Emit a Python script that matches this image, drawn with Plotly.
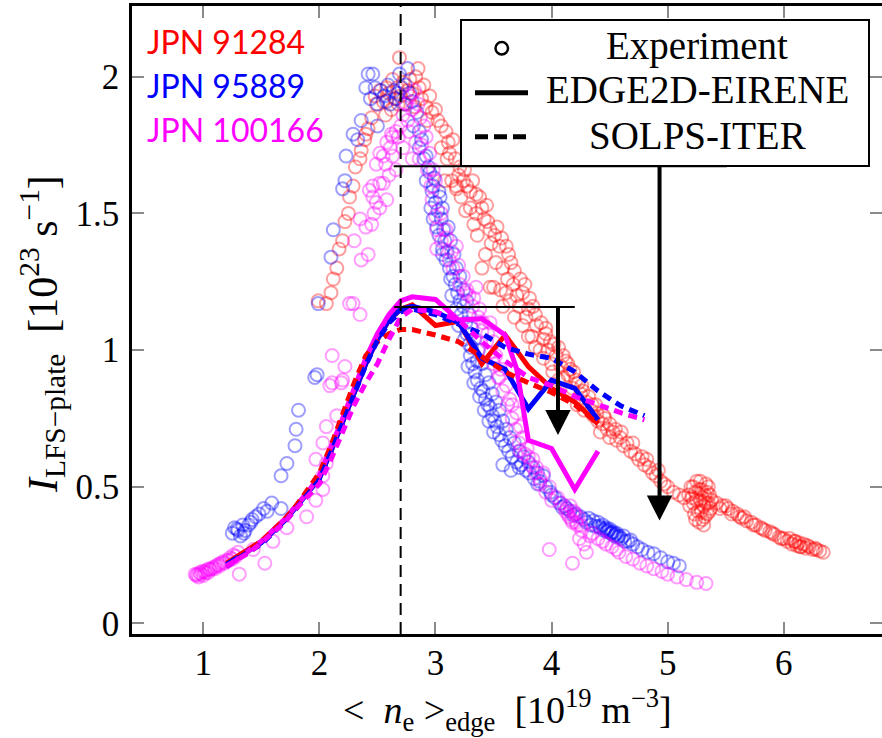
import plotly.graph_objects as go

# ---------------- data ----------------
# Experiment, JPN 91284 (red)
red_x = [1.99, 2.06, 2.10, 2.12, 2.15, 2.17, 2.20, 2.22, 2.25, 2.26, 2.29, 2.31, 2.35, 2.36, 2.39, 2.40, 2.42, 2.45, 2.49, 2.52,
         2.48, 2.55, 2.58, 2.60, 2.63, 2.65, 2.67, 2.69, 2.70, 2.72, 2.74, 2.76, 2.78, 2.80, 2.83, 2.85, 2.86, 2.88, 2.90, 2.92,
         2.95, 2.97, 3.00, 3.02, 3.05, 3.09, 3.11, 3.15, 3.12, 3.17, 3.21, 3.24, 3.18, 3.22, 3.27, 3.30, 3.35, 3.38, 3.44, 3.42,
         3.47, 3.30, 3.26, 3.14, 3.08, 3.18, 3.33, 3.36, 3.51, 3.55, 3.61, 3.65, 3.52, 3.58, 3.67, 3.62, 3.50, 3.47, 3.58, 3.61,
         3.70, 3.75, 3.72, 3.80, 3.84, 3.78, 3.87, 3.83, 3.93, 3.90, 3.97, 4.04, 4.00, 4.08, 4.12, 4.16, 4.10, 4.21, 4.18, 4.25,
         4.30, 4.28, 4.34, 4.36, 4.40, 4.44, 4.42, 4.48, 4.53, 4.50, 4.56, 4.59, 4.62, 4.65, 4.68, 4.72, 4.75, 4.78, 4.80, 4.84,
         4.87, 4.90, 4.94, 4.97, 5.00, 5.05, 5.10, 5.14, 4.38, 4.46, 4.60, 4.70, 4.82, 4.92, 4.26, 4.14, 4.02, 3.95,
         3.05, 3.10, 3.20, 3.25, 3.32, 3.40, 3.45, 3.53, 3.57, 3.63, 3.68, 3.73, 3.77, 3.81, 3.86, 3.91, 3.95, 3.99, 4.06, 4.10,
         4.14, 4.19, 4.23, 4.27, 4.32, 4.35, 4.39, 4.45, 4.50, 4.55, 3.43, 3.40, 3.56, 3.64, 3.68, 3.75, 3.80, 3.86, 3.93, 4.01,
         4.06, 4.15, 4.22, 3.48, 3.35, 2.62, 2.57, 2.68, 2.82, 2.93,
         5.18, 5.20, 5.22, 5.24, 5.25, 5.26, 5.28, 5.29, 5.30, 5.31, 5.32, 5.33, 5.34, 5.35, 5.36, 5.27, 5.37, 5.38, 5.23, 5.21,
         5.19, 5.22, 5.25, 5.27, 5.29, 5.30, 5.32, 5.33, 5.35, 5.36, 5.24, 5.28, 5.31, 5.34,
         5.42, 5.47, 5.52, 5.56, 5.60, 5.64, 5.68, 5.72, 5.76, 5.80, 5.84, 5.88, 5.92, 5.96, 6.00, 6.03,
         5.45, 5.50, 5.55, 5.62, 5.66, 5.74, 5.82, 5.90, 5.98, 6.10, 6.14, 6.20, 6.27,
         6.05, 6.07, 6.09, 6.11, 6.13, 6.15, 6.17, 6.19, 6.22, 6.25, 6.28, 6.31, 6.34]
red_y = [1.18, 1.17, 1.21, 1.26, 1.30, 1.37, 1.40, 1.47, 1.50, 1.56, 1.60, 1.67, 1.70, 1.73, 1.77, 1.79, 1.81, 1.85, 1.90, 1.95,
         1.93, 1.91, 1.96, 1.94, 1.99, 1.92, 1.96, 2.07, 1.93, 1.98, 1.90, 1.95, 1.99, 1.94, 2.00, 2.03, 1.96, 1.92, 1.97, 1.89,
         1.93, 1.87, 1.88, 1.84, 1.82, 1.80, 1.76, 1.77, 1.72, 1.70, 1.67, 1.62, 1.59, 1.56, 1.60, 1.58, 1.57, 1.56, 1.53, 1.48,
         1.44, 1.52, 1.51, 1.62, 1.62, 1.60, 1.46, 1.42, 1.42, 1.38, 1.38, 1.32, 1.32, 1.30, 1.24, 1.26, 1.23, 1.23, 1.16, 1.21,
         1.20, 1.21, 1.16, 1.15, 1.16, 1.12, 1.09, 1.05, 1.04, 1.00, 1.00, 0.98, 0.95, 0.94, 0.96, 0.93, 0.90, 0.89, 0.86, 0.84,
         0.81, 0.78, 0.78, 0.76, 0.74, 0.73, 0.70, 0.71, 0.70, 0.68, 0.67, 0.68, 0.65, 0.66, 0.63, 0.62, 0.60, 0.61, 0.58, 0.57,
         0.55, 0.54, 0.52, 0.51, 0.50, 0.48, 0.47, 0.46, 0.80, 0.75, 0.70, 0.66, 0.60, 0.56, 0.87, 0.91, 1.02, 1.06,
         1.74, 1.70, 1.64, 1.66, 1.62, 1.52, 1.47, 1.45, 1.41, 1.35, 1.29, 1.26, 1.24, 1.19, 1.13, 1.10, 1.08, 1.03, 1.01, 0.98,
         0.95, 0.92, 0.88, 0.85, 0.83, 0.80, 0.77, 0.76, 0.73, 0.71, 1.35, 1.30, 1.22, 1.18, 1.12, 1.09, 1.05, 1.01, 0.97, 0.92,
         0.89, 0.85, 0.80, 1.39, 1.50, 1.88, 1.86, 1.90, 1.89, 1.84,
         0.47, 0.50, 0.44, 0.48, 0.52, 0.41, 0.45, 0.49, 0.38, 0.43, 0.47, 0.51, 0.40, 0.44, 0.47, 0.37, 0.42, 0.45, 0.40, 0.46,
         0.43, 0.50, 0.45, 0.49, 0.41, 0.46, 0.39, 0.44, 0.50, 0.41, 0.38, 0.52, 0.36, 0.48,
         0.44, 0.43, 0.42, 0.41, 0.40, 0.385, 0.375, 0.37, 0.36, 0.35, 0.34, 0.335, 0.325, 0.315, 0.31, 0.30,
         0.42, 0.43, 0.40, 0.39, 0.39, 0.36, 0.345, 0.33, 0.31, 0.30, 0.28, 0.285, 0.275,
         0.31, 0.29, 0.30, 0.285, 0.295, 0.28, 0.29, 0.275, 0.28, 0.27, 0.27, 0.265, 0.26]

# Experiment, JPN 95889 (blue)
blue_x = [1.25, 1.27, 1.30, 1.32, 1.34, 1.36, 1.39, 1.42, 1.45, 1.48, 1.52, 1.55, 1.59, 1.67, 1.67, 1.72, 1.79, 1.80, 1.82, 1.96,
          1.98, 1.99, 2.10, 2.12, 2.20, 2.22, 2.23, 2.29, 2.33, 2.36, 2.42, 2.46, 2.40, 2.44, 2.50, 2.50, 2.53, 2.56, 2.59, 2.61,
          2.64, 2.66, 2.69, 2.71, 2.73, 2.76, 2.78, 2.80, 2.81, 2.84, 2.86, 2.86, 2.88, 2.90, 2.92, 2.92, 2.95, 2.97, 2.98, 3.00,
          3.02, 3.04, 3.05, 3.07, 3.08, 3.10, 3.09, 3.12, 3.15, 3.17, 3.19, 3.21, 3.24, 3.22, 3.26, 3.27, 3.29, 3.30, 3.32, 3.34,
          3.36, 3.39, 3.41, 3.43, 3.45, 3.47, 3.49, 3.51, 3.53, 3.55, 3.57, 3.60, 3.63, 3.66, 3.70, 3.74, 3.78, 3.81, 3.85, 3.90,
          3.95, 3.99, 4.03, 4.07, 4.11, 4.16, 4.21, 4.25, 4.30, 4.34, 4.38, 4.42, 4.45, 4.48, 4.51, 4.54, 4.57, 4.60, 4.63, 4.66,
          4.70, 4.74, 4.78, 4.83, 4.88, 4.94, 5.00, 5.05, 5.10,
          3.28, 3.33, 3.38, 3.42, 3.46, 3.50, 3.36, 3.31, 3.25, 3.20, 3.58, 3.65, 2.96, 3.01, 3.06, 3.13,
          4.40, 4.44, 4.47, 4.50, 4.53, 4.56, 4.36, 4.32, 4.62, 4.68, 3.72, 3.88, 4.00, 4.13,
          2.94, 2.99, 3.03, 3.06, 3.11, 3.13, 3.16, 3.18, 3.21, 3.24, 3.27, 3.29, 3.31, 3.34, 3.37, 3.40, 3.43, 3.46, 3.49, 3.52,
          3.55, 3.58, 3.61, 3.64, 3.68, 3.72, 3.76, 3.80, 3.84, 3.88, 3.93, 2.98, 3.03, 3.06, 3.14, 3.18, 2.48, 2.58, 2.68, 2.74,
          4.41, 4.46, 4.49, 4.52, 4.55, 4.58, 4.28, 4.19, 4.09, 1.29, 1.35, 1.41]
blue_y = [0.33, 0.35, 0.34, 0.32, 0.36, 0.34, 0.36, 0.38, 0.39, 0.40, 0.42, 0.41, 0.44, 0.42, 0.54, 0.585, 0.65, 0.71, 0.78, 0.90,
          0.91, 1.17, 1.34, 1.44, 1.59, 1.62, 1.71, 1.79, 1.77, 1.84, 2.01, 2.01, 1.96, 1.92, 1.82, 1.90, 1.95, 1.93, 1.97, 1.90,
          1.95, 1.92, 2.01, 1.96, 1.90, 2.03, 1.94, 1.91, 1.82, 1.87, 1.80, 1.74, 1.77, 1.70, 1.71, 1.62, 1.65, 1.58, 1.60, 1.54,
          1.51, 1.56, 1.48, 1.44, 1.40, 1.36, 1.33, 1.30, 1.27, 1.24, 1.21, 1.18, 1.16, 1.13, 1.10, 1.06, 1.02, 0.98, 0.95, 0.92,
          0.89, 0.86, 0.85, 0.82, 0.80, 0.79, 0.76, 0.74, 0.72, 0.69, 0.67, 0.65, 0.63, 0.61, 0.59, 0.58, 0.56, 0.55, 0.53, 0.52,
          0.50, 0.48, 0.46, 0.44, 0.43, 0.41, 0.40, 0.39, 0.37, 0.36, 0.355, 0.35, 0.34, 0.335, 0.33, 0.32, 0.315, 0.31, 0.30, 0.30,
          0.29, 0.28, 0.27, 0.26, 0.255, 0.24, 0.225, 0.22, 0.21,
          0.94, 0.88, 0.83, 0.78, 0.74, 0.70, 0.96, 1.01, 1.04, 1.09, 0.58, 0.56, 1.52, 1.45, 1.37, 1.26,
          0.37, 0.36, 0.35, 0.345, 0.335, 0.33, 0.375, 0.385, 0.32, 0.305, 0.57, 0.51, 0.47, 0.42,
          1.67, 1.63, 1.58, 1.52, 1.45, 1.40, 1.35, 1.30, 1.27, 1.22, 1.18, 1.13, 1.08, 1.04, 1.00, 0.95, 0.91, 0.88, 0.84, 0.81,
          0.78, 0.74, 0.71, 0.68, 0.66, 0.63, 0.61, 0.59, 0.57, 0.55, 0.54, 1.48, 1.42, 1.35, 1.20, 1.15, 1.96, 1.91, 1.94, 1.97,
          0.355, 0.345, 0.34, 0.33, 0.325, 0.32, 0.38, 0.395, 0.425, 0.345, 0.33, 0.37]

# Experiment, JPN 100166 (magenta)
mag_x = [0.93, 0.95, 0.97, 0.99, 1.01, 1.03, 1.05, 1.07, 1.09, 1.11, 1.13, 1.15, 1.17, 1.20, 1.23, 1.26, 1.30, 0.96, 1.00, 1.04,
         0.94, 0.98, 1.02, 1.06, 1.10, 1.14, 1.18, 1.22, 1.25, 1.28,
         1.31, 1.53, 1.43, 1.60, 1.72, 1.89, 1.97, 2.03, 2.03, 2.06, 1.97, 2.03, 2.06, 2.15, 2.09, 2.20, 2.11, 2.22, 2.11, 2.19,
         2.26, 2.29, 2.35, 2.36, 2.42, 2.30, 2.40, 2.45, 2.35, 2.46, 2.49, 2.46, 2.52, 2.49, 2.55, 2.61, 2.52, 2.63, 2.66, 2.43,
         2.58, 2.63, 2.55, 2.58, 2.70, 2.72, 2.75, 2.78, 2.80, 2.82, 2.85, 2.87, 2.90, 2.92, 2.88, 2.95, 2.98, 3.00, 2.97, 3.00,
         3.01, 3.09, 3.01, 3.05, 3.18, 3.12, 3.15, 3.21, 3.29, 3.32, 3.35, 3.38, 3.41, 3.47, 3.50, 3.52, 3.56, 3.61, 3.64, 3.70,
         3.73, 3.75, 3.73, 3.80, 3.84, 3.87, 3.93, 3.98, 4.05, 4.13, 4.15, 4.18, 4.20, 4.22, 4.24, 4.26, 4.30, 4.28, 4.35, 4.40,
         4.47, 4.52, 4.58, 4.64, 4.70, 4.76, 4.82, 4.88, 4.95, 5.00, 5.08, 5.16, 5.25, 5.33, 3.98, 4.18,
         4.14, 4.16, 4.17, 4.19, 4.21, 4.23, 4.25, 4.12, 3.55, 3.66, 3.79, 3.90, 4.08, 4.33, 4.44, 4.56, 3.45, 3.26, 2.62, 2.76,
         3.05, 3.10, 3.14, 3.20, 3.24, 3.27, 3.33, 3.37, 3.40, 3.44, 3.47, 3.50, 3.54, 3.58, 3.62, 3.66, 3.69, 3.72, 3.77, 3.82,
         3.86, 3.90, 3.95, 4.00, 2.68, 2.72, 2.77, 2.83, 2.86, 2.80, 2.66, 2.60, 2.57, 2.93, 2.96, 2.52, 2.47]
mag_y = [0.18, 0.18, 0.185, 0.19, 0.19, 0.195, 0.20, 0.20, 0.205, 0.21, 0.215, 0.22, 0.225, 0.23, 0.24, 0.25, 0.26, 0.17, 0.175, 0.185,
         0.175, 0.18, 0.185, 0.195, 0.20, 0.21, 0.22, 0.23, 0.235, 0.245,
         0.18, 0.22, 0.27, 0.30, 0.35, 0.39, 0.45, 0.49, 0.54, 0.585, 0.60, 0.66, 0.72, 0.76, 0.87, 0.89, 0.98, 0.94, 0.88, 0.88,
         1.17, 1.17, 1.13, 1.33, 1.35, 1.40, 1.45, 1.46, 1.48, 1.56, 1.54, 1.60, 1.61, 1.68, 1.71, 1.74, 1.72, 1.78, 1.80, 1.585,
         1.76, 1.71, 1.61, 1.55, 1.82, 1.86, 1.90, 1.93, 1.88, 1.95, 1.90, 1.85, 1.82, 1.78, 1.75, 1.72, 1.66, 1.62, 1.55, 1.49,
         1.44, 1.44, 1.37, 1.40, 1.38, 1.33, 1.30, 1.24, 1.20, 1.16, 1.23, 1.15, 1.10, 1.10, 1.03, 0.98, 0.93, 0.87, 0.82, 0.77,
         0.72, 0.68, 0.63, 0.61, 0.60, 0.57, 0.55, 0.50, 0.46, 0.42, 0.39, 0.37, 0.40, 0.36, 0.31, 0.34, 0.26, 0.29, 0.33, 0.31,
         0.29, 0.28, 0.26, 0.245, 0.235, 0.22, 0.21, 0.20, 0.19, 0.18, 0.17, 0.16, 0.15, 0.146, 0.27, 0.22,
         0.40, 0.43, 0.38, 0.41, 0.37, 0.39, 0.36, 0.41, 0.90, 0.80, 0.64, 0.53, 0.44, 0.32, 0.30, 0.27, 1.06, 1.21, 1.79, 1.84,
         1.50, 1.41, 1.36, 1.31, 1.27, 1.22, 1.19, 1.12, 1.07, 1.03, 0.99, 0.95, 0.90, 0.85, 0.80, 0.75, 0.71, 0.66, 0.62, 0.58,
         0.55, 0.51, 0.48, 0.45, 1.78, 1.74, 1.80, 1.76, 1.70, 1.70, 1.66, 1.64, 1.68, 1.66, 1.60, 1.52, 1.50]

# EDGE2D-EIRENE (solid)
e2d_red_x = [1.2, 1.3, 1.4, 1.5, 1.6, 1.7, 1.8, 1.9, 2.0, 2.1, 2.2, 2.3, 2.4, 2.5, 2.6, 2.7, 2.8, 3.0, 3.2, 3.4, 3.6, 3.8, 4.0, 4.2, 4.4]
e2d_red_y = [0.22, 0.245, 0.27, 0.30, 0.34, 0.38, 0.43, 0.48, 0.53, 0.63, 0.735, 0.84, 0.95, 1.04, 1.11, 1.15, 1.165, 1.09, 1.105, 0.95, 1.055, 0.94, 0.86, 0.81, 0.73]
e2d_blue_x = [1.2, 1.3, 1.4, 1.5, 1.6, 1.7, 1.8, 1.9, 2.0, 2.1, 2.2, 2.3, 2.4, 2.5, 2.6, 2.7, 2.8, 3.0, 3.2, 3.4, 3.6, 3.8, 4.0, 4.2, 4.4]
e2d_blue_y = [0.215, 0.24, 0.265, 0.295, 0.335, 0.375, 0.425, 0.475, 0.53, 0.63, 0.735, 0.84, 0.95, 1.04, 1.11, 1.15, 1.16, 1.14, 1.10, 0.97, 0.93, 0.785, 0.89, 0.86, 0.745]
e2d_mag_x = [1.2, 1.3, 1.4, 1.5, 1.6, 1.7, 1.8, 1.9, 2.0, 2.1, 2.2, 2.3, 2.4, 2.5, 2.6, 2.7, 2.8, 3.0, 3.2, 3.4, 3.6, 3.7, 3.8, 4.0, 4.2, 4.4]
e2d_mag_y = [0.205, 0.235, 0.265, 0.30, 0.34, 0.38, 0.43, 0.48, 0.54, 0.64, 0.75, 0.86, 0.97, 1.06, 1.13, 1.18, 1.195, 1.185, 1.11, 1.115, 1.055, 0.93, 0.67, 0.64, 0.49, 0.63]

# SOLPS-ITER (dashed)
solps_red_x = [1.3, 1.4, 1.5, 1.6, 1.7, 1.8, 1.9, 2.0, 2.1, 2.2, 2.3, 2.4, 2.5, 2.6, 2.7, 2.8, 3.0, 3.2, 3.4, 3.6, 3.8, 4.0, 4.2, 4.4]
solps_red_y = [0.245, 0.27, 0.30, 0.34, 0.38, 0.43, 0.49, 0.55, 0.65, 0.77, 0.88, 0.98, 1.03, 1.06, 1.075, 1.075, 1.055, 1.03, 0.975, 0.92, 0.88, 0.845, 0.80, 0.73]
solps_blue_x = [1.2, 1.3, 1.4, 1.5, 1.6, 1.7, 1.8, 1.9, 2.0, 2.1, 2.2, 2.3, 2.4, 2.5, 2.6, 2.7, 2.8, 3.0, 3.2, 3.4, 3.6, 3.8, 4.0, 4.2, 4.4, 4.6, 4.8]
solps_blue_y = [0.21, 0.235, 0.26, 0.29, 0.33, 0.37, 0.42, 0.47, 0.525, 0.625, 0.73, 0.835, 0.945, 1.035, 1.10, 1.14, 1.15, 1.13, 1.095, 1.06, 1.01, 0.985, 0.97, 0.92, 0.85, 0.795, 0.76]
solps_mag_x = [1.2, 1.3, 1.4, 1.5, 1.6, 1.7, 1.8, 1.9, 2.0, 2.1, 2.2, 2.3, 2.4, 2.5, 2.6, 2.7, 2.8, 3.0, 3.2, 3.4, 3.6, 3.8, 4.0, 4.2, 4.4, 4.6, 4.8]
solps_mag_y = [0.21, 0.235, 0.26, 0.295, 0.33, 0.37, 0.42, 0.465, 0.51, 0.60, 0.70, 0.80, 0.88, 0.95, 1.04, 1.12, 1.15, 1.14, 1.11, 1.03, 0.96, 0.90, 0.87, 0.83, 0.80, 0.77, 0.745]

# annotations (arrows showing drop from peak)
ref_x = 2.70
hline_y = [1.673, 1.158]
hline_x0 = [2.64, 2.645]
hline_x1 = [5.51, 4.20]
arrow_x = [4.93, 4.055]
arrow_tip_y = [0.376, 0.689]

shot_labels = ["JPN 91284", "JPN 95889", "JPN 100166"]
shot_colors = ["#ff0000", "#0000ff", "#ff00ff"]
legend_labels = ["Experiment", "EDGE2D-EIRENE", "SOLPS-ITER"]

x_ticks = [1, 2, 3, 4, 5, 6]
y_ticks = [0, 0.5, 1, 1.5, 2]
y_ticklabels = ["0", "0.5", "1", "1.5", "2"]
x_range = [0.386, 6.846]
y_range = [-0.039, 2.259]

# ---------------- layout helpers ----------------
W, H = 882, 738
L, R, T, B = 132, 882, 6, 634
def pxx(x):
    return (x - L) / (R - L)
def pxy(y):
    return (B - y) / (B - T)
xscale = (R - L) / (x_range[1] - x_range[0])
yscale = (B - T) / (y_range[1] - y_range[0])

SERIF = "Liberation Serif, Times New Roman, serif"
fig = go.Figure()

def rgba(hexc, a):
    h = hexc.lstrip('#')
    return "rgba(%d,%d,%d,%s)" % (int(h[0:2], 16), int(h[2:4], 16), int(h[4:6], 16), a)

for xs, ys, c in [(red_x, red_y, shot_colors[0]), (blue_x, blue_y, shot_colors[1]), (mag_x, mag_y, shot_colors[2])]:
    fig.add_trace(go.Scatter(x=xs, y=ys, mode="markers", showlegend=False, hoverinfo="skip",
                             marker=dict(symbol="circle-open", size=13, color=rgba(c, 0.38),
                                         line=dict(width=2, color=rgba(c, 0.38)))))

for xs, ys, c in [(e2d_red_x, e2d_red_y, shot_colors[0]), (e2d_blue_x, e2d_blue_y, shot_colors[1]),
                  (e2d_mag_x, e2d_mag_y, shot_colors[2])]:
    fig.add_trace(go.Scatter(x=xs, y=ys, mode="lines", showlegend=False, hoverinfo="skip",
                             line=dict(color=c, width=5)))
for xs, ys, c in [(solps_red_x, solps_red_y, shot_colors[0]), (solps_blue_x, solps_blue_y, shot_colors[1]),
                  (solps_mag_x, solps_mag_y, shot_colors[2])]:
    fig.add_trace(go.Scatter(x=xs, y=ys, mode="lines", showlegend=False, hoverinfo="skip",
                             line=dict(color=c, width=5, dash="9px,6px")))

# invisible traces to activate top / right tick axes
fig.add_trace(go.Scatter(x=[1], y=[1], xaxis="x2", yaxis="y", mode="markers",
                         marker=dict(opacity=0), showlegend=False, hoverinfo="skip"))
fig.add_trace(go.Scatter(x=[1], y=[1], xaxis="x", yaxis="y2", mode="markers",
                         marker=dict(opacity=0), showlegend=False, hoverinfo="skip"))

shapes = []
shapes.append(dict(type="line", xref="x", yref="paper", x0=ref_x, x1=ref_x, y0=0, y1=1,
                   line=dict(color="black", width=2, dash="12px,7px"), layer="above"))
head_w = 12.7 / xscale
head_h = 25.0 / yscale
for i in range(2):
    shapes.append(dict(type="line", xref="x", yref="y", x0=hline_x0[i], x1=hline_x1[i], y0=hline_y[i], y1=hline_y[i],
                       line=dict(color="black", width=2)))
    shapes.append(dict(type="line", xref="x", yref="y", x0=arrow_x[i], x1=arrow_x[i], y0=hline_y[i],
                       y1=arrow_tip_y[i] + head_h * 0.9, line=dict(color="black", width=4)))
    tx, ty = arrow_x[i], arrow_tip_y[i]
    shapes.append(dict(type="path", xref="x", yref="y",
                       path="M %f,%f L %f,%f L %f,%f Z" % (tx - head_w, ty + head_h, tx + head_w, ty + head_h, tx, ty),
                       fillcolor="black", line=dict(color="black", width=0)))
# legend box
shapes.append(dict(type="rect", xref="paper", yref="paper", x0=pxx(461), x1=pxx(869), y0=pxy(166), y1=pxy(20),
                   fillcolor="white", line=dict(color="black", width=2)))
shapes.append(dict(type="circle", xref="paper", yref="paper", x0=pxx(495.5), x1=pxx(508), y0=pxy(54.5), y1=pxy(42),
                   line=dict(color="black", width=2.5)))
shapes.append(dict(type="line", xref="paper", yref="paper", x0=pxx(475), x1=pxx(528), y0=pxy(92.7), y1=pxy(92.7),
                   line=dict(color="black", width=5)))
shapes.append(dict(type="line", xref="paper", yref="paper", x0=pxx(475), x1=pxx(527), y0=pxy(136.7), y1=pxy(136.7),
                   line=dict(color="black", width=5, dash="13px,6px")))

annotations = []
for txt, yy in zip(legend_labels, [46, 90, 135]):
    annotations.append(dict(text=txt, xref="paper", yref="paper", x=pxx(697), y=pxy(yy), showarrow=False,
                            xanchor="center", yanchor="middle", font=dict(family=SERIF, size=39, color="black")))
for txt, c, yy in zip(shot_labels, shot_colors, [41, 86, 130]):
    annotations.append(dict(text=txt, xref="paper", yref="paper", x=pxx(145), y=pxy(yy), showarrow=False,
                            xanchor="left", yanchor="middle", font=dict(family="Lato, Carlito, sans-serif", size=32, color=c)))
annotations.append(dict(text="&lt;  <i>n</i><sub>e</sub> &gt;<sub>edge</sub>  [10<sup>19</sup> m<sup>−3</sup>]",
                        xref="paper", yref="paper", x=pxx(507), y=pxy(710), showarrow=False,
                        xanchor="center", yanchor="middle", font=dict(family=SERIF, size=38, color="black")))
annotations.append(dict(text="<i>I</i><sub>LFS−plate</sub>  [10<sup>23</sup> s<sup>−1</sup>]",
                        xref="paper", yref="paper", x=pxx(42), y=pxy(334), showarrow=False, textangle=-90,
                        xanchor="center", yanchor="middle", font=dict(family=SERIF, size=42, color="black")))

axis_common = dict(showgrid=False, zeroline=False, ticks="inside", ticklen=12, tickwidth=2, tickcolor="#8a8a8a")
fig.update_layout(
    width=W, height=H, paper_bgcolor="white", plot_bgcolor="white",
    margin=dict(l=L, r=W - R, t=T, b=H - B, pad=0),
    showlegend=False,
    xaxis=dict(range=x_range, tickvals=x_ticks, ticktext=[str(v) for v in x_ticks], showline=True, linecolor="black",
               linewidth=2.5, tickfont=dict(family=SERIF, size=35, color="black"), ticklabelstandoff=-4, **axis_common),
    xaxis2=dict(range=x_range, overlaying="x", side="top", anchor="y", tickvals=x_ticks, showticklabels=False,
                showline=True, linecolor="black", linewidth=2.5, **axis_common),
    yaxis=dict(range=y_range, tickvals=y_ticks, ticktext=y_ticklabels, showline=True, linecolor="black",
               linewidth=2.5, tickfont=dict(family=SERIF, size=35, color="black"), ticklabelstandoff=3, **axis_common),
    yaxis2=dict(range=y_range, overlaying="y", side="right", anchor="x", tickvals=y_ticks, showticklabels=False,
                showline=False, **axis_common),
    shapes=shapes, annotations=annotations,
)
fig.write_html("out.html", config={"displayModeBar": False},
               post_script="document.body.style.margin='0px';document.body.style.padding='0px';")
